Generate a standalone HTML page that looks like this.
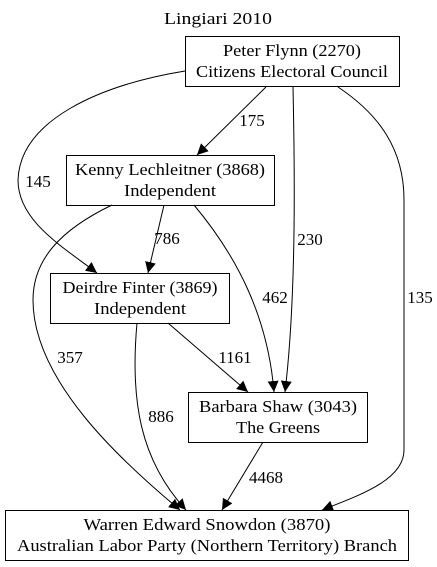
<!DOCTYPE html>
<html><head><meta charset="utf-8"><style>
html,body{margin:0;padding:0;background:#fff;}
svg{display:block;}
svg text{font-family:'Liberation Serif','Times New Roman',Times,serif;font-size:17px;fill:#000;}
</style></head><body>
<svg width="437" height="567" viewBox="0 0 437 567" xmlns="http://www.w3.org/2000/svg">
<defs><marker id="a" markerWidth="12" markerHeight="12" refX="11" refY="5.5" orient="auto" markerUnits="userSpaceOnUse"><path d="M0,0 L11,5.5 L0,11 z" fill="#000"/></marker></defs>
<text x="218" y="24" text-anchor="middle" textLength="108" lengthAdjust="spacingAndGlyphs">Lingiari 2010</text>
<g fill="#fff" stroke="#000" stroke-width="1">
<rect x="185.5" y="36.5" width="214" height="50"/>
<rect x="66.5" y="155.5" width="208" height="50"/>
<rect x="50.5" y="273.5" width="179" height="50"/>
<rect x="188.5" y="392.5" width="179" height="50"/>
<rect x="5.5" y="510.5" width="403" height="50"/>
</g>
<g text-anchor="middle" lengthAdjust="spacingAndGlyphs">
<text x="292" y="56" textLength="138" lengthAdjust="spacingAndGlyphs">Peter Flynn (2270)</text><text x="292" y="77" textLength="192" lengthAdjust="spacingAndGlyphs">Citizens Electoral Council</text>
<text x="170" y="175" textLength="190" lengthAdjust="spacingAndGlyphs">Kenny Lechleitner (3868)</text><text x="170" y="196" textLength="92" lengthAdjust="spacingAndGlyphs">Independent</text>
<text x="140" y="293" textLength="155" lengthAdjust="spacingAndGlyphs">Deirdre Finter (3869)</text><text x="140" y="314" textLength="92" lengthAdjust="spacingAndGlyphs">Independent</text>
<text x="278" y="412" textLength="158" lengthAdjust="spacingAndGlyphs">Barbara Shaw (3043)</text><text x="278" y="433" textLength="84" lengthAdjust="spacingAndGlyphs">The Greens</text>
<text x="207" y="530" textLength="247" lengthAdjust="spacingAndGlyphs">Warren Edward Snowdon (3870)</text><text x="207" y="551" textLength="380" lengthAdjust="spacingAndGlyphs">Australian Labor Party (Northern Territory) Branch</text>
</g>
<g fill="none" stroke="#000" stroke-width="1" marker-end="url(#a)">
<path d="M266,87 L197,155"/>
<path d="M185,71 C100,85 20,120 18,180 C18,220 60,245 97,273"/>
<path d="M293,87 C295,180 296,300 285,392"/>
<path d="M338,87 C380,115 404,150 404,200 L404,450 C404,480 360,495 322,510"/>
<path d="M164,205 L148,273"/>
<path d="M194,205 C240,260 268,320 274,392"/>
<path d="M112,205 C60,230 33,260 33,300 C33,380 120,460 180,510"/>
<path d="M168,323 L248,392"/>
<path d="M137,323 C130,400 140,460 186,510"/>
<path d="M263,442 L222,510"/>
</g>
<g text-anchor="middle">
<text x="252" y="126">175</text>
<text x="38" y="187">145</text>
<text x="310" y="245">230</text>
<text x="420" y="303">135</text>
<text x="167" y="244">786</text>
<text x="275" y="303">462</text>
<text x="70" y="363">357</text>
<text x="235" y="363">1161</text>
<text x="161" y="422">886</text>
<text x="266" y="483">4468</text>
</g>
</svg>
</body></html>
